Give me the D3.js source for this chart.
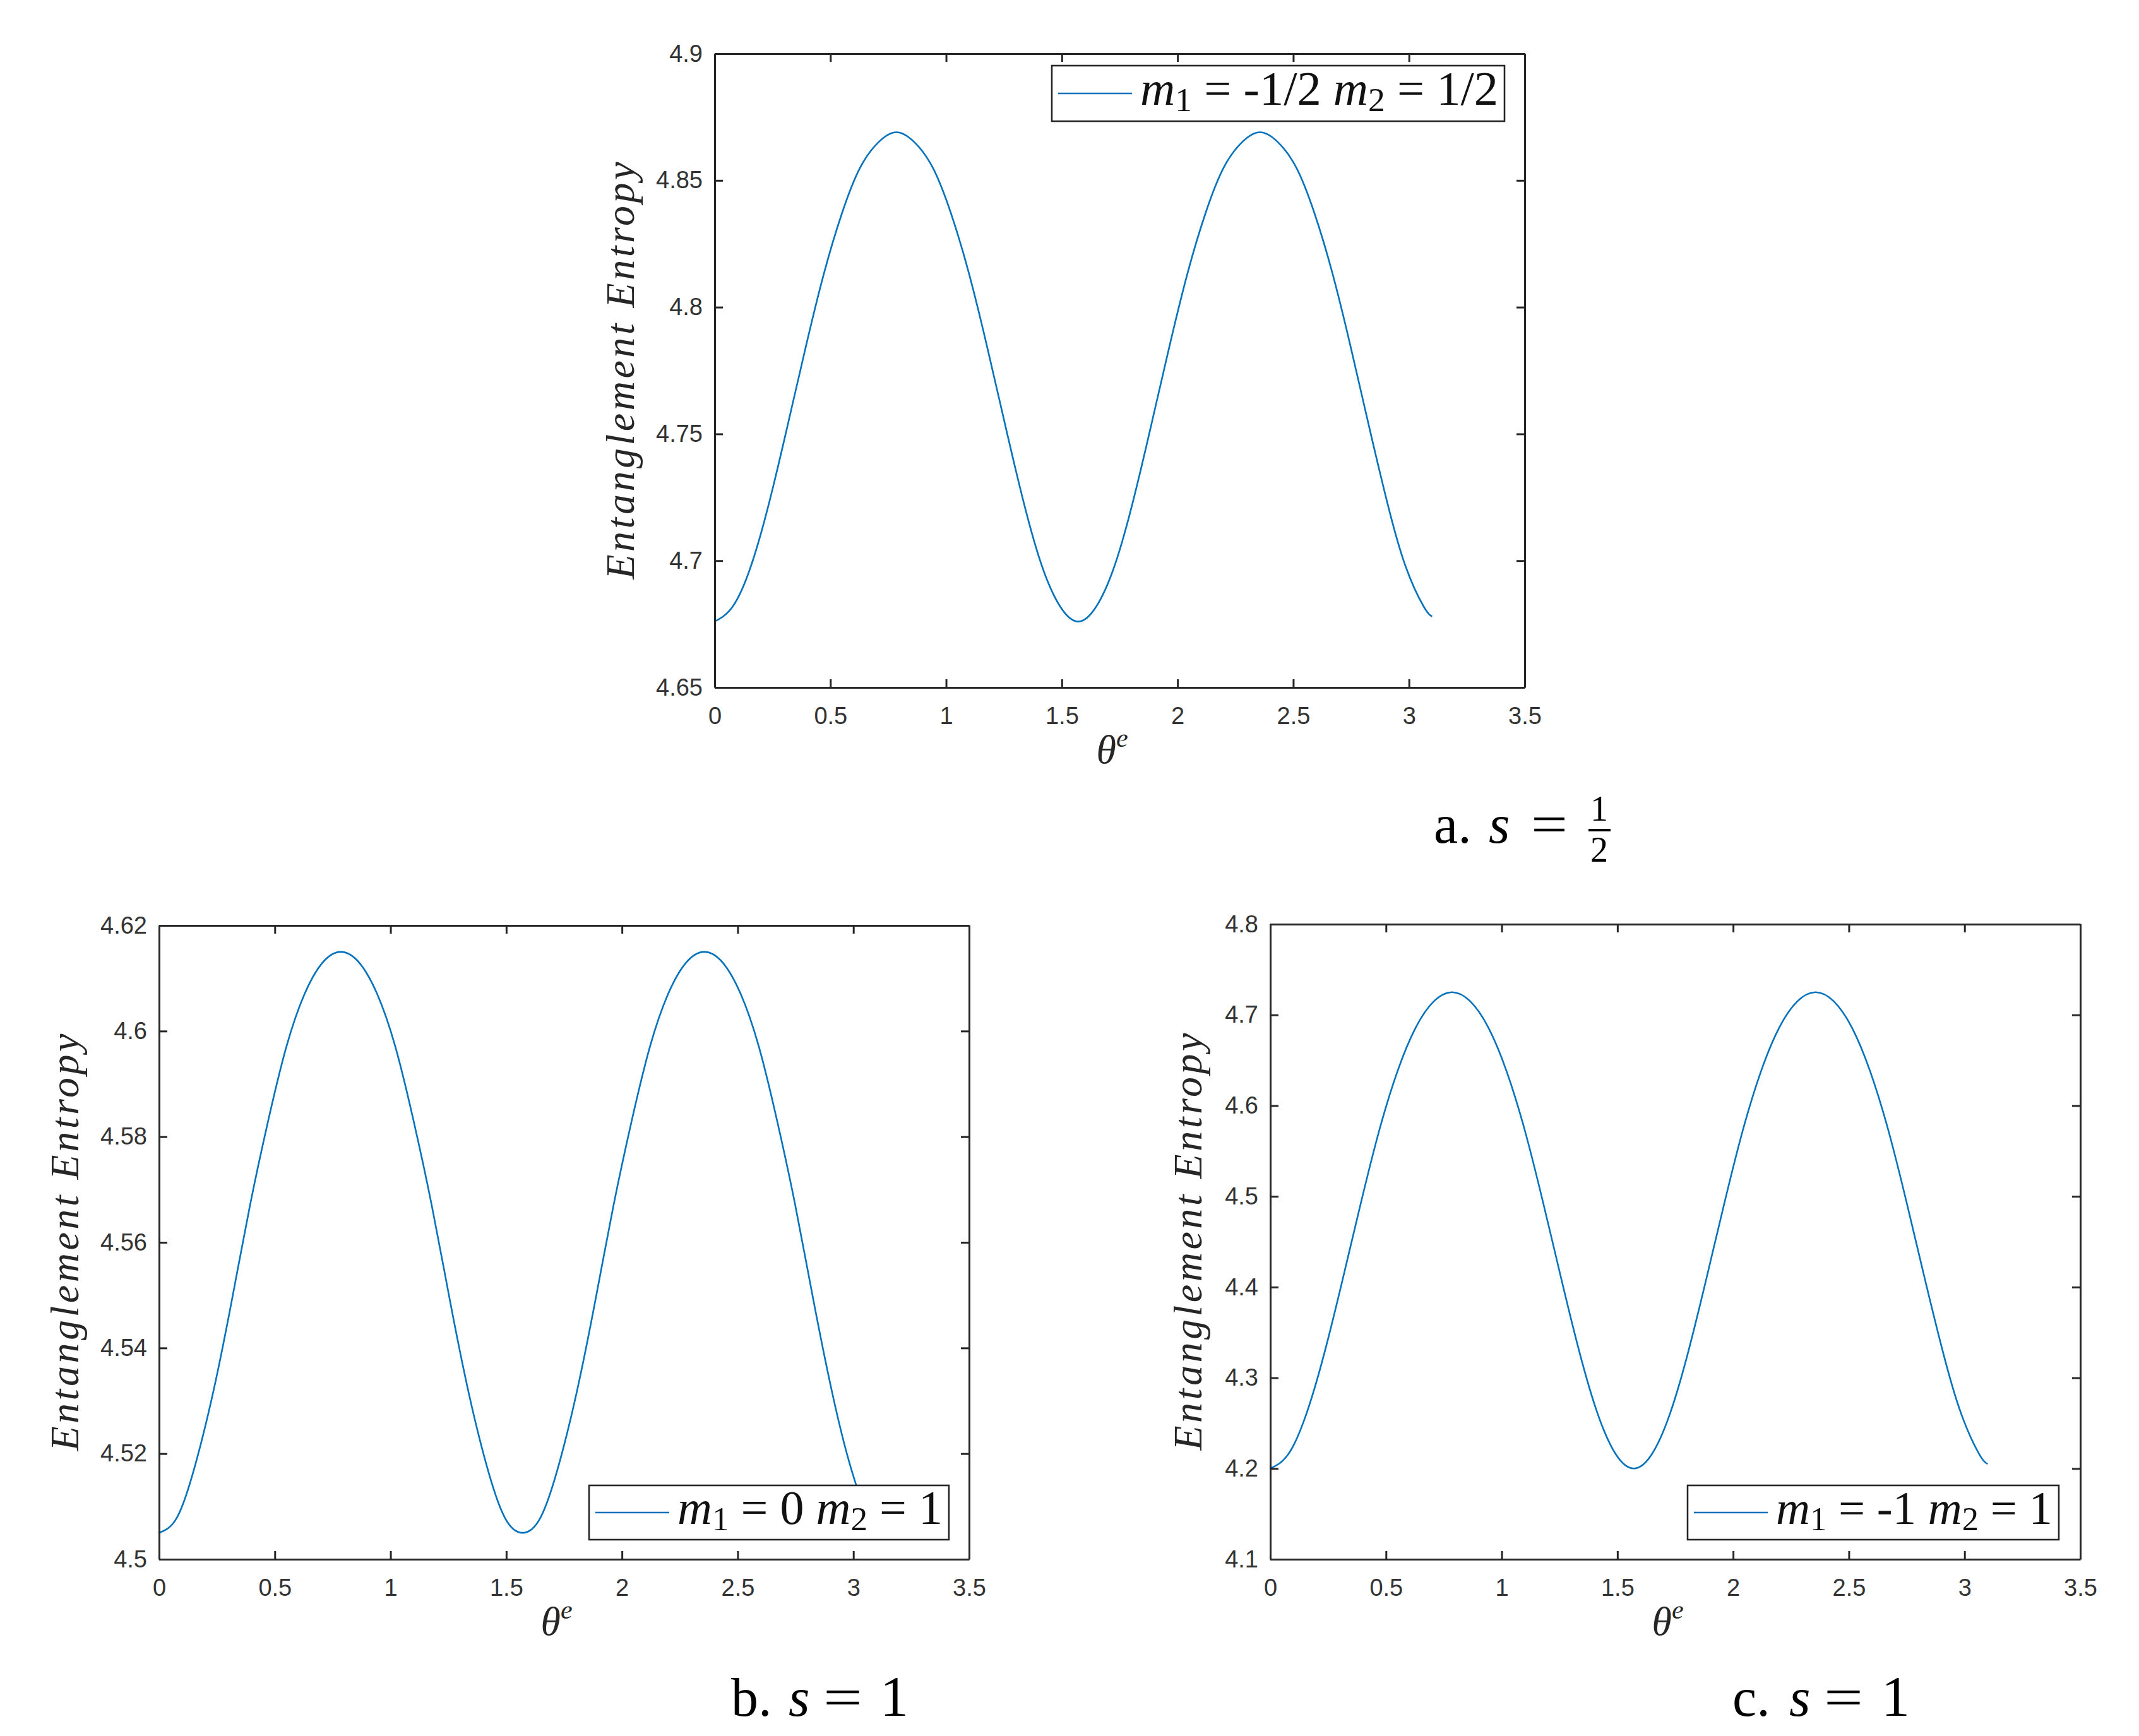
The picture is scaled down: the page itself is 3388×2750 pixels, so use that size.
<!DOCTYPE html>
<html>
<head>
<meta charset="utf-8">
<script src="https://cdn.jsdelivr.net/npm/d3@7"></script>
<style>
  html, body { margin: 0; padding: 0; background: #fff; }
  svg { display: block; }
</style>
</head>
<body>
<div class="container"></div>
<script>
var thetaValues = [0, 0.0785, 0.1571, 0.2356, 0.3142, 0.3927, 0.4712, 0.5498, 0.6283, 0.7069,
                   0.7854, 0.8639, 0.9425, 1.0210, 1.0996, 1.1781, 1.2566, 1.3352, 1.4137, 1.4923,
                   1.5708, 1.6493, 1.7279, 1.8064, 1.8850, 1.9635, 2.0420, 2.1206, 2.1991, 2.2777,
                   2.3562, 2.4347, 2.5133, 2.5918, 2.6704, 2.7489, 2.8274, 2.9060, 2.9845, 3.0631, 3.1];
var entropyA = [4.676, 4.682, 4.698, 4.723, 4.753, 4.784, 4.813, 4.837, 4.855, 4.865,
                4.869, 4.865, 4.855, 4.837, 4.813, 4.784, 4.753, 4.723, 4.698, 4.682,
                4.676, 4.682, 4.698, 4.723, 4.753, 4.784, 4.813, 4.837, 4.855, 4.865,
                4.869, 4.865, 4.855, 4.837, 4.813, 4.784, 4.753, 4.723, 4.698, 4.682, 4.678];
var entropyB = [4.505, 4.508, 4.518, 4.532, 4.549, 4.567, 4.583, 4.597, 4.607, 4.613,
                4.615, 4.613, 4.607, 4.597, 4.583, 4.567, 4.549, 4.532, 4.518, 4.508,
                4.505, 4.508, 4.518, 4.532, 4.549, 4.567, 4.583, 4.597, 4.607, 4.613,
                4.615, 4.613, 4.607, 4.597, 4.583, 4.567, 4.549, 4.532, 4.518, 4.508, 4.506];
var entropyC = [4.200, 4.216, 4.261, 4.329, 4.410, 4.494, 4.573, 4.638, 4.686, 4.715,
                4.725, 4.715, 4.686, 4.638, 4.573, 4.494, 4.410, 4.329, 4.261, 4.216,
                4.200, 4.216, 4.261, 4.329, 4.410, 4.494, 4.573, 4.638, 4.686, 4.715,
                4.725, 4.715, 4.686, 4.638, 4.573, 4.494, 4.410, 4.329, 4.261, 4.216, 4.205];

var xTicks = [0, 0.5, 1, 1.5, 2, 2.5, 3, 3.5];
var yTicksA = [4.65, 4.7, 4.75, 4.8, 4.85, 4.9];
var yTicksB = [4.5, 4.52, 4.54, 4.56, 4.58, 4.6, 4.62];
var yTicksC = [4.1, 4.2, 4.3, 4.4, 4.5, 4.6, 4.7, 4.8];

var legendA = ["-1/2", "1/2"];   // m1, m2
var legendB = ["0", "1"];
var legendC = ["-1", "1"];

var captionB = ["b.", "1"];
var captionC = ["c.", "1"];

//colours
var lineColor = "#0072BD", axisColor = "#262626";

var W = 3388, H = 2750;
var svg = d3.select(".container").append("svg")
    .attr("width", W).attr("height", H);
svg.append("rect").attr("width", W).attr("height", H).attr("fill", "#fff");

//layout of the three panels
var panels = [
  {left: 1132, top: 85, w: 1283, h: 1004, ys: entropyA, yTicks: yTicksA, ylabGap: 147,
   leg: legendA, legBox: {x: 1666, y: 104, w: 717, h: 88}},
  {left: 252, top: 1466, w: 1283, h: 1004, ys: entropyB, yTicks: yTicksB, ylabGap: 147,
   leg: legendB, legBox: {x: 933, y: 2353, w: 570, h: 86}},
  {left: 2012, top: 1464, w: 1283, h: 1006, ys: entropyC, yTicks: yTicksC, ylabGap: 128,
   leg: legendC, legBox: {x: 2673, y: 2353, w: 588, h: 86}}
];

var serif = "'Liberation Serif', 'Times New Roman', serif";

function styleAxis(g) {
  g.attr("font-family", "'Liberation Sans', Arial, sans-serif").attr("font-size", 38);
  g.select(".domain").attr("stroke", axisColor).attr("stroke-width", 3);
  g.selectAll(".tick line").attr("stroke", axisColor).attr("stroke-width", 3);
  g.selectAll(".tick text").attr("fill", "#333");
}

panels.forEach(function(p) {
  var x = d3.scaleLinear().domain([0, 3.5]).range([p.left, p.left + p.w]);
  var y = d3.scaleLinear().domain(d3.extent(p.yTicks)).range([p.top + p.h, p.top]);
  var g = svg.append("g");

  // curve
  var pts = thetaValues.map(function(t, i) { return [t, p.ys[i]]; });
  var line = d3.line()
      .x(function(d) { return x(d[0]); })
      .y(function(d) { return y(d[1]); })
      .curve(d3.curveNatural);
  g.append("path").datum(pts)
      .attr("d", line)
      .attr("fill", "none")
      .attr("stroke", lineColor)
      .attr("stroke-width", 2.6);

  // axes, ticks inward on all four sides
  g.append("g").attr("transform", "translate(0," + (p.top + p.h) + ")")
      .call(d3.axisBottom(x).tickValues(xTicks).tickSizeInner(-13).tickSizeOuter(0).tickPadding(31)
        .tickFormat(function(d) { return String(d); }))
      .call(styleAxis);
  g.append("g").attr("transform", "translate(0," + p.top + ")")
      .call(d3.axisTop(x).tickValues(xTicks).tickSizeInner(-13).tickSizeOuter(0).tickFormat(""))
      .call(styleAxis);
  g.append("g").attr("transform", "translate(" + p.left + ",0)")
      .call(d3.axisLeft(y).tickValues(p.yTicks).tickSizeInner(-13).tickSizeOuter(0).tickPadding(19)
        .tickFormat(function(d) { return String(d); }))
      .call(styleAxis);
  g.append("g").attr("transform", "translate(" + (p.left + p.w) + ",0)")
      .call(d3.axisRight(y).tickValues(p.yTicks).tickSizeInner(-13).tickSizeOuter(0).tickFormat(""))
      .call(styleAxis);

  // y label
  g.append("text")
      .attr("transform", "translate(" + (p.left - p.ylabGap) + "," + (p.top + p.h / 2) + ") rotate(-90)")
      .attr("text-anchor", "middle")
      .attr("dy", "0.3em")
      .attr("font-family", serif)
      .attr("font-style", "italic")
      .attr("font-size", 64)
      .attr("fill", axisColor)
      .attr("textLength", 661)
      .attr("lengthAdjust", "spacing")
      .text("Entanglement  Entropy");

  // x label theta^e
  var xl = g.append("text")
      .attr("x", p.left + p.w / 2 - 12).attr("y", p.top + p.h + 120)
      .attr("text-anchor", "middle")
      .attr("font-family", serif)
      .attr("font-style", "italic")
      .attr("fill", axisColor);
  xl.append("tspan").attr("font-size", 64).text("θ");
  xl.append("tspan").attr("font-size", 42).attr("dy", -26).text("e");

  // legend
  var b = p.legBox;
  var lg = g.append("g");
  lg.append("rect").attr("x", b.x).attr("y", b.y).attr("width", b.w).attr("height", b.h)
      .attr("fill", "#fff").attr("stroke", axisColor).attr("stroke-width", 2.6);
  lg.append("line").attr("x1", b.x + 10).attr("x2", b.x + 127)
      .attr("y1", b.y + b.h / 2).attr("y2", b.y + b.h / 2)
      .attr("stroke", lineColor).attr("stroke-width", 2.6);
  var lt = lg.append("text")
      .attr("x", b.x + 140).attr("y", b.y + b.h / 2 + 18)
      .attr("font-family", serif)
      .attr("font-size", 50)
      .attr("fill", "#111");
  lt.append("tspan").attr("font-style", "italic").text("m");
  lt.append("tspan").attr("font-size", "70%").attr("dy", 10).text("1");
  lt.append("tspan").attr("dy", -10).text(" = " + p.leg[0] + " ");
  lt.append("tspan").attr("font-style", "italic").text("m");
  lt.append("tspan").attr("font-size", "70%").attr("dy", 10).text("2");
  lt.append("tspan").attr("dy", -10).text(" = " + p.leg[1]);
  // fit text into box
  var target = b.w - 140 - 10;
  var bw = lt.node().getBBox().width;
  lt.attr("font-size", 50 * target / bw);
});

// captions
function caption(x0, base, label, sx, eqx, eqw) {
  var c = svg.append("g").attr("font-family", serif).attr("fill", "#000");
  c.append("text").attr("x", x0).attr("y", base).attr("font-size", 86).text(label);
  c.append("text").attr("x", sx).attr("y", base).attr("font-size", 86).attr("font-style", "italic").text("s");
  c.append("text").attr("x", eqx).attr("y", base).attr("font-size", 86)
      .attr("textLength", eqw).attr("lengthAdjust", "spacingAndGlyphs").text("=");
  return c;
}
var ca = caption(2271, 1335, "a.", 2358, 2425, 58);
ca.append("text").attr("x", 2533).attr("y", 1300).attr("text-anchor", "middle").attr("font-size", 56).text("1");
ca.append("line").attr("x1", 2516).attr("x2", 2551).attr("y1", 1315).attr("y2", 1315)
    .attr("stroke", "#000").attr("stroke-width", 4);
ca.append("text").attr("x", 2533).attr("y", 1365).attr("text-anchor", "middle").attr("font-size", 56).text("2");

var cb = caption(1158, 2718, captionB[0], 1249, 1304, 62);
cb.append("text").attr("x", 1394).attr("y", 2718).attr("font-size", 90).text(captionB[1]);
var cc = caption(2744, 2718, captionC[0], 2834, 2889, 62);
cc.append("text").attr("x", 2980).attr("y", 2718).attr("font-size", 90).text(captionC[1]);
</script>
</body>
</html>
